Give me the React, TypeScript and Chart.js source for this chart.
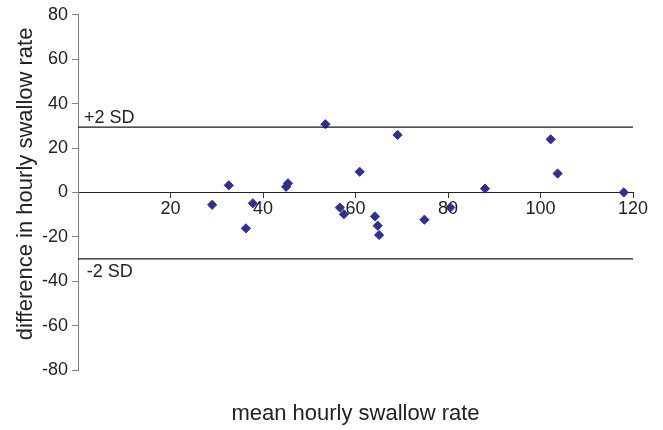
import React, { useEffect, useRef } from "react";
import { Chart, registerables } from "chart.js";

Chart.register(...registerables);

// Data
const meanRate = [29.0, 32.6, 36.3, 37.8, 45.0, 45.4, 53.5, 56.6, 57.5, 60.9, 64.2, 64.8, 65.1, 69.1, 74.9, 80.5, 88.0, 102.2, 103.7, 118.0];
const diffRate = [-5.6, 3.2, -16.2, -4.9, 2.5, 4.1, 30.7, -6.8, -9.8, 9.3, -10.8, -15.0, -19.2, 25.9, -12.3, -6.8, 1.7, 23.9, 8.5, 0.0];
const upperSD = 29.4;
const lowerSD = -29.9;
const xRange = [0, 120];
const yRange = [-80, 80];
const xTitle = "mean hourly swallow rate";
const yTitle = "difference in hourly swallow rate";
const upperLabel = "+2 SD";
const lowerLabel = "-2 SD";

const FONT = "'Liberation Sans', Arial, Helvetica, sans-serif";
const TEXT = "#222222";

const annotationPlugin = {
  id: "blandAltmanText",
  afterDraw(chart: any) {
    const { ctx, chartArea, scales } = chart;
    const xs = scales.x;
    const ys = scales.y;
    ctx.save();
    ctx.fillStyle = TEXT;
    // SD labels
    ctx.font = `18px ${FONT}`;
    ctx.textAlign = "left";
    ctx.textBaseline = "alphabetic";
    ctx.fillText(upperLabel, xs.getPixelForValue(1.3), ys.getPixelForValue(upperSD) - 4);
    ctx.textBaseline = "top";
    ctx.fillText(lowerLabel, xs.getPixelForValue(1.9), ys.getPixelForValue(lowerSD) + 4);
    // axis titles
    ctx.font = `22px ${FONT}`;
    ctx.textAlign = "center";
    ctx.textBaseline = "alphabetic";
    ctx.fillText(xTitle, (chartArea.left + chartArea.right) / 2, chartArea.bottom + 50);
    ctx.translate(31.7, (chartArea.top + chartArea.bottom) / 2 - 8.5);
    ctx.rotate(-Math.PI / 2);
    ctx.fillText(yTitle, 0, 0);
    ctx.restore();
  },
};

export default function App() {
  const ref = useRef<HTMLCanvasElement | null>(null);
  useEffect(() => {
    if (!ref.current) return;
    const points = meanRate.map((x, i) => ({ x, y: diffRate[i] }));
    const chart = new Chart(ref.current, {
      type: "scatter",
      data: {
        datasets: [
          {
            type: "line",
            data: [
              { x: xRange[0], y: upperSD },
              { x: xRange[1], y: upperSD },
            ],
            borderColor: "#1a1a1a",
            borderWidth: 1.3,
            pointRadius: 0,
            fill: false,
          } as any,
          {
            type: "line",
            data: [
              { x: xRange[0], y: lowerSD },
              { x: xRange[1], y: lowerSD },
            ],
            borderColor: "#1a1a1a",
            borderWidth: 1.3,
            pointRadius: 0,
            fill: false,
          } as any,
          {
            type: "scatter",
            data: points,
            pointStyle: "rectRot",
            pointRadius: 4.6,
            pointBorderWidth: 1,
            backgroundColor: "#2E3192",
            borderColor: "#2E3192",
          } as any,
        ],
      },
      options: {
        animation: false,
        responsive: true,
        maintainAspectRatio: false,
        layout: { padding: { left: 0, right: 30, top: 12, bottom: 60 } },
        plugins: {
          legend: { display: false },
          tooltip: { enabled: false },
          title: { display: false },
        },
        scales: {
          x: {
            type: "linear",
            position: { y: 0 } as any,
            min: xRange[0],
            max: xRange[1],
            ticks: {
              stepSize: 20,
              color: TEXT,
              font: { family: FONT, size: 18 },
              padding: 1,
              maxRotation: 0,
              callback: (v: any) => (v === 0 ? "" : String(v)),
            },
            grid: {
              drawOnChartArea: false,
              tickLength: 5,
              tickColor: (c: any) => (c.tick && c.tick.value === 0 ? "rgba(0,0,0,0)" : "#333333"),
            },
            border: { color: "#222222", width: 1 },
          },
          y: {
            type: "linear",
            position: "left",
            min: yRange[0],
            max: yRange[1],
            afterFit: (scale: any) => {
              scale.width = 78;
            },
            ticks: {
              stepSize: 20,
              color: TEXT,
              font: { family: FONT, size: 18 },
              padding: 4,
            },
            grid: {
              drawOnChartArea: false,
              tickLength: 6,
              color: "#808080",
            },
            border: { color: "#808080", width: 1 },
          },
        },
      },
      plugins: [annotationPlugin],
    });
    return () => chart.destroy();
  }, []);
  return (
    <div style={{ position: "fixed", left: 0, top: 0, width: 663, height: 430, background: "#fff" }}>
      <canvas ref={ref} />
    </div>
  );
}
